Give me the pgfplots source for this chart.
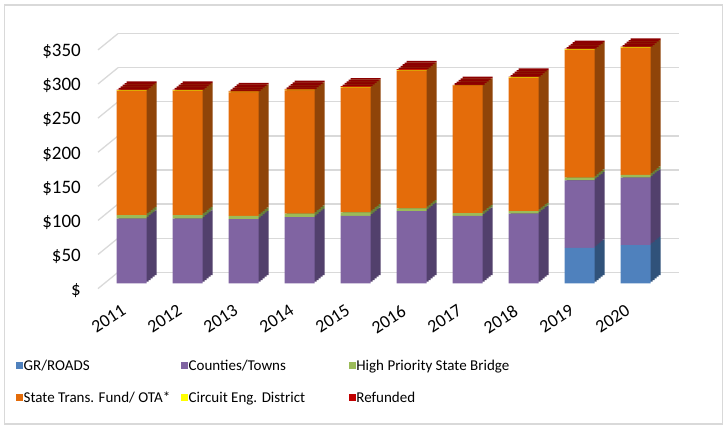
\documentclass[border=0pt]{standalone}
\usepackage{fontspec}
\setmainfont{Carlito}
\usepackage{pgfplots}
\usepackage{pgfplotstable}
\pgfplotsset{compat=1.18}

\definecolor{cBlue}{HTML}{4F81BD}
\definecolor{cPurple}{HTML}{8064A2}
\definecolor{cGreen}{HTML}{9BBB59}
\definecolor{cOrange}{HTML}{E46C0A}
\definecolor{cYellow}{HTML}{FFFF00}
\definecolor{cRed}{HTML}{C00000}
\definecolor{dBlue}{RGB}{48,82,122}
\definecolor{dPurple}{RGB}{82,64,108}
\definecolor{dGreen}{RGB}{104,130,58}
\definecolor{dOrange}{RGB}{143,68,9}
\definecolor{dRed}{RGB}{140,0,0}
\definecolor{gridgray}{HTML}{D9D9D9}

% year index, GR/ROADS, Counties/Towns, High Priority State Bridge,
% State Trans. Fund/OTA*, Circuit Eng. District, Refunded
\pgfplotstableread{
x gr ct hp stf ced ref
0 0 95 5 182 1 1
1 0 95 5 182 1 1
2 0 94 5 181 1 1
3 0 97 5 181 1 1
4 0 99 5 183 1 1
5 0 106 4 202 1 1
6 0 99 4 186 1 1
7 0 102 4 195 1 1
8 52 99 4 187 1 1
9 56 99 4 186 1 1
}\datatable

% one depth layer of the 3-D bars: #1 = horizontal offset (pt), #2 = vertical offset (data units)
\newcommand{\depthlayer}[2]{%
\begin{axis}[
  at={(103.7pt+#1pt,141.7pt)}, anchor=south west,
  scale only axis, width=560pt, height=238.7pt,
  xmin=-0.5, xmax=9.5, ymin=0, ymax=350,
  ybar stacked, bar width=30pt,
  hide axis, clip=false,
]
\addplot[draw=none, fill=none] table[x=x, y expr=#2] {\datatable};
\addplot[draw=none, fill=dBlue] table[x=x, y=gr] {\datatable};
\addplot[draw=none, fill=dPurple] table[x=x, y=ct] {\datatable};
\addplot[draw=none, fill=dGreen] table[x=x, y=hp] {\datatable};
\addplot[draw=none, fill=dOrange] table[x=x, y expr=\thisrow{stf}+\thisrow{ced}+\thisrow{ref}-2.4] {\datatable};
\addplot[draw=none, fill=dRed] table[x=x, y expr=2.4] {\datatable};
\end{axis}}

\begin{document}
\begin{tikzpicture}[x=1pt,y=1pt]
\useasboundingbox (0,0) rectangle (724,425);
\draw[gridgray, line width=1.6pt] (4.3,0.8) rectangle (722.5,420.2);

% back wall gridlines
\begin{axis}[
  at={(118pt,152.7pt)}, anchor=south west,
  scale only axis, width=561pt, height=238.7pt,
  xmin=0, xmax=1, ymin=0, ymax=350,
  ytick={0,50,...,350}, yticklabels={}, xtick=\empty,
  ymajorgrids, grid style={line width=1.3pt, color=gridgray},
  axis line style={draw=none}, tick style={draw=none},
  clip=false,
]
\pgfplotsinvokeforeach{0,50,100,150,200,250,300,350}{
  \draw[gridgray, line width=1.3pt] (axis cs:0,#1) -- ++(-20pt,-16.3pt);
}
\end{axis}

% side and top faces (depth), back to front
\depthlayer{10}{12}
\depthlayer{8}{9.6}
\depthlayer{6}{7.2}
\depthlayer{4}{4.8}
\depthlayer{2}{2.4}

% front faces
\begin{axis}[
  at={(103.7pt,141.7pt)}, anchor=south west,
  scale only axis, width=560pt, height=238.7pt,
  xmin=-0.5, xmax=9.5, ymin=0, ymax=350,
  ybar stacked, bar width=30pt,
  clip=false,
  axis line style={draw=none}, tick style={draw=none},
  axis x line*=bottom, axis y line*=left,
  /pgf/number format/assume math mode=true,
  xtick={0,...,9},
  xticklabels={2011,2012,2013,2014,2015,2016,2017,2018,2019,2020},
  xticklabel style={xshift=-11pt, yshift=-20.5pt, rotate=33, anchor=north east,
    inner sep=0pt, font=\fontsize{18}{21}\selectfont},
  ytick={0,50,...,350},
  yticklabels={\$,\$50,\$100,\$150,\$200,\$250,\$300,\$350},
  yticklabel style={anchor=east, inner sep=0pt, xshift=-22.7pt, yshift=-7pt,
    font=\fontsize{19}{22}\selectfont},
  legend columns=3,
  legend style={draw=none, fill=none, inner sep=0pt, outer sep=0pt,
    at={(axis description cs:-0.15625,-0.312)}, anchor=north west,
    font=\fontsize{15}{18}\selectfont,
    nodes={inner sep=0.5pt}, column sep=0pt, row sep=17pt},
  legend cell align=left,
  legend image code/.code={\draw[#1, draw=none] (0pt,-3.5pt) rectangle (7pt,3.5pt);},
]
\addplot[draw=none, fill=cBlue] table[x=x, y=gr] {\datatable};
\addlegendentry{\makebox[157pt][l]{\strut GR/ROADS}}
\addplot[draw=none, fill=cPurple] table[x=x, y=ct] {\datatable};
\addlegendentry{\makebox[159.7pt][l]{\strut Counties/Towns}}
\addplot[draw=none, fill=cGreen] table[x=x, y=hp] {\datatable};
\addlegendentry{\strut High Priority State Bridge}
\addplot[draw=none, fill=cOrange] table[x=x, y=stf] {\datatable};
\addlegendentry{\makebox[157pt][l]{\strut State Trans. Fund/ OTA*}}
\addplot[draw=none, fill=cYellow] table[x=x, y=ced] {\datatable};
\addlegendentry{\makebox[159.7pt][l]{\strut Circuit Eng. District}}
\addplot[draw=none, fill=cRed] table[x=x, y=ref] {\datatable};
\addlegendentry{\strut Refunded}
\end{axis}
\end{tikzpicture}
\end{document}
